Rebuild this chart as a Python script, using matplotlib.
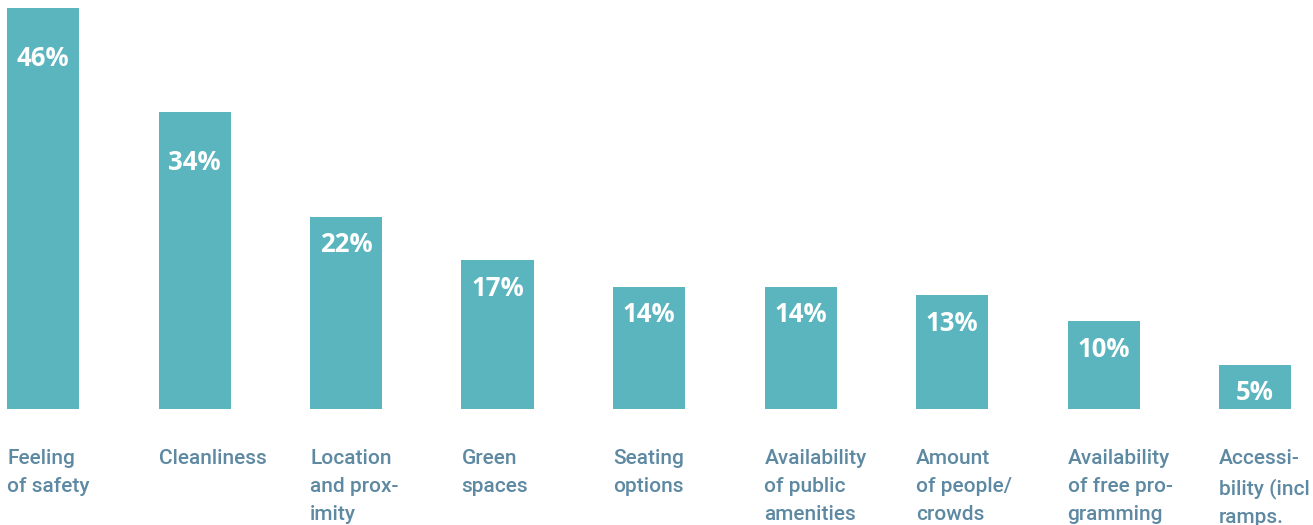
import matplotlib
matplotlib.use("Agg")
import matplotlib.pyplot as plt

categories = [
    "Feeling\nof safety",
    "Cleanliness",
    "Location\nand prox-\nimity",
    "Green\nspaces",
    "Seating\noptions",
    "Availability\nof public\namenities",
    "Amount\nof people/\ncrowds",
    "Availability\nof free pro-\ngramming",
    "Accessi-\nbility (incl\nramps.",
]
shares = [46, 34, 22, 17, 14, 14, 13, 10, 5]

BAR_COLOR = "#5bb5be"
TEXT_COLOR = "#5e89a2"

W, H = 1313, 525
fig = plt.figure(figsize=(W / 100, H / 100), dpi=100)

# plot area: bar baseline sits 116.5 px above the bottom edge
bottom_px = 116.5
top_px = 517
ax = fig.add_axes([0, bottom_px / H, 1, (top_px - bottom_px) / H])

step = 151.5
width = 72 / step
x = list(range(len(shares)))
ax.bar(x, shares, width=width, color=BAR_COLOR, zorder=2)

x0 = -width / 2 - 7 / step
ax.set_xlim(x0, x0 + W / step)
ax.set_ylim(0, max(shares))
ax.axis("off")

for xi, v in zip(x, shares):
    # tall bars get their label pushed a little further down
    drop = -36 if v > 30 else -20
    ax.annotate(
        f"{v}%",
        xy=(xi, v),
        xytext=(0, drop),
        textcoords="offset points",
        ha="center",
        va="center",
        color="white",
        fontsize=18.5,
        fontweight="bold",
        family=["Open Sans", "DejaVu Sans"],
    )

# category labels, left-aligned under each bar
for xi, label in zip(x, categories):
    ax.annotate(
        label,
        xy=(xi - width / 2, 0),
        xycoords="data",
        xytext=(0, -(449 - 408.5) * 0.72),
        textcoords="offset points",
        ha="left",
        va="top",
        color=TEXT_COLOR,
        fontsize=15,
        fontweight="medium",
        linespacing=1.6,
        family=["Roboto", "DejaVu Sans"],
        annotation_clip=False,
    )

fig.savefig("out.png", dpi=100)
